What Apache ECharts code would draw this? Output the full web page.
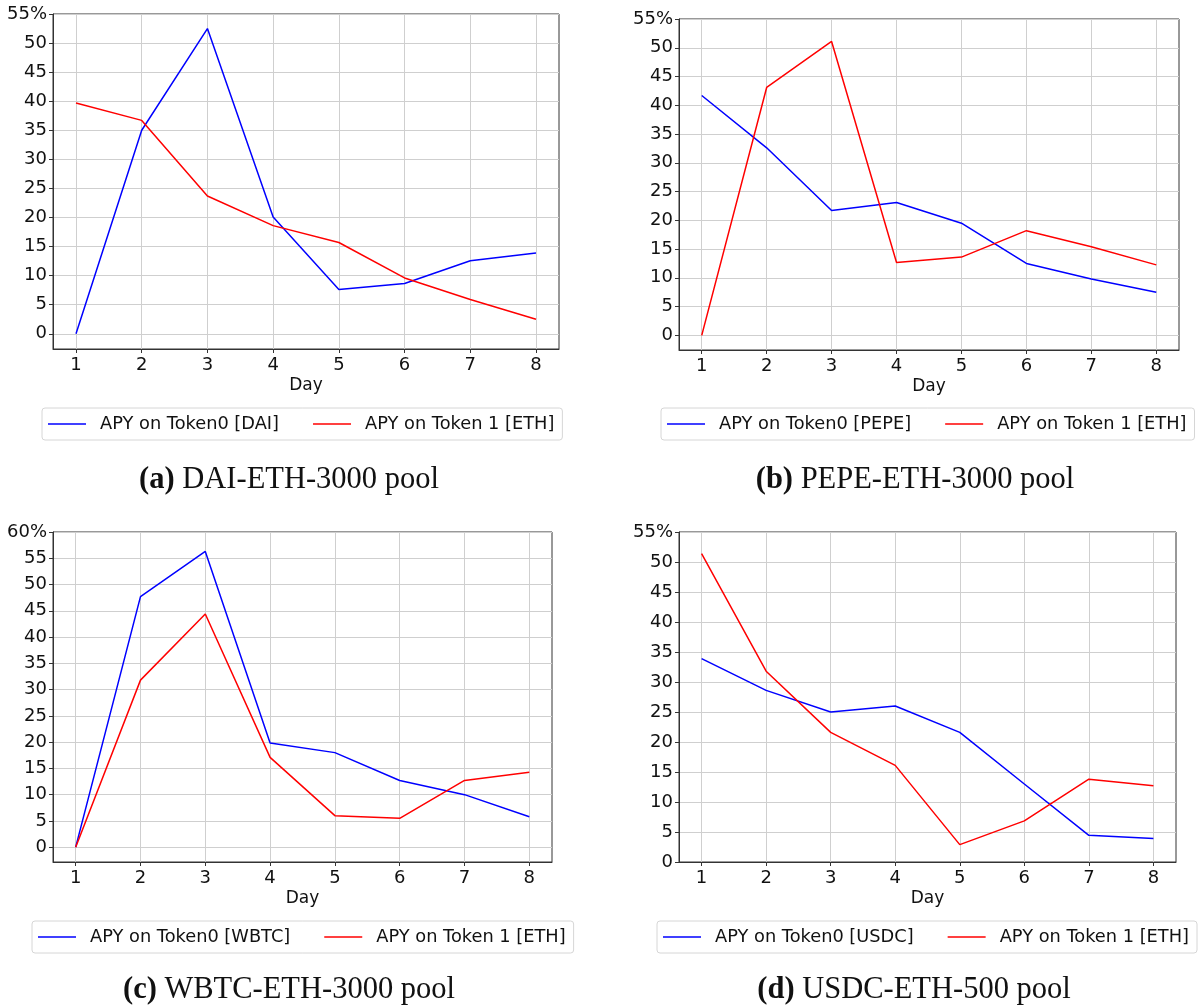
<!DOCTYPE html>
<html>
<head>
<meta charset="utf-8">
<script src="https://cdn.jsdelivr.net/npm/echarts@6/dist/echarts.min.js"></script>
<style>
html,body{margin:0;padding:0;background:#fff;}
#chart{width:1202px;height:1007px;}
</style>
</head>
<body>
<div id="chart"></div>
<script>
const days = [1, 2, 3, 4, 5, 6, 7, 8];

const daiToken0 = [0, 35.0, 52.5, 20.1, 7.6, 8.65, 12.55, 13.9];
const daiEth = [39.7, 36.7, 23.7, 18.6, 15.7, 9.6, 5.9, 2.5];

const pepeToken0 = [41.7, 32.6, 21.7, 23.1, 19.5, 12.5, 9.8, 7.5];
const pepeEth = [0, 43.1, 51.1, 12.65, 13.6, 18.2, 15.4, 12.25];

const wbtcToken0 = [0, 47.7, 56.3, 19.85, 18.0, 12.7, 10.0, 5.8];
const wbtcEth = [0, 31.8, 44.4, 17.1, 6.0, 5.5, 12.7, 14.25];

const usdcToken0 = [33.9, 28.6, 25.0, 26.0, 21.6, 13.0, 4.45, 3.9];
const usdcEth = [51.4, 31.8, 21.6, 16.1, 2.9, 6.85, 13.8, 12.7];

const yTicksA = [0, 5, 10, 15, 20, 25, 30, 35, 40, 45, 50, 55];
const yTicksC = [0, 5, 10, 15, 20, 25, 30, 35, 40, 45, 50, 55, 60];

const panels = [
  { token0: daiToken0, eth: daiEth, name0: 'APY on Token0 [DAI]', name1: 'APY on Token 1 [ETH]',
    caption: ['(a)', 'DAI-ETH-3000 pool'], yMin: -2.62, yMax: 55, yTicks: yTicksA,
    grid: { left: 53, top: 14, width: 506, height: 335 }, legend: { left: 42, top: 408 }, capX: 289, capY: 480 },
  { token0: pepeToken0, eth: pepeEth, name0: 'APY on Token0 [PEPE]', name1: 'APY on Token 1 [ETH]',
    caption: ['(b)', 'PEPE-ETH-3000 pool'], yMin: -2.55, yMax: 55, yTicks: yTicksA,
    grid: { left: 679, top: 19, width: 500, height: 331 }, legend: { left: 661, top: 408 }, capX: 915, capY: 480 },
  { token0: wbtcToken0, eth: wbtcEth, name0: 'APY on Token0 [WBTC]', name1: 'APY on Token 1 [ETH]',
    caption: ['(c)', 'WBTC-ETH-3000 pool'], yMin: -2.82, yMax: 60, yTicks: yTicksC,
    grid: { left: 53, top: 532, width: 499, height: 330 }, legend: { left: 32, top: 921 }, capX: 289, capY: 990 },
  { token0: usdcToken0, eth: usdcEth, name0: 'APY on Token0 [USDC]', name1: 'APY on Token 1 [ETH]',
    caption: ['(d)', 'USDC-ETH-500 pool'], yMin: 0, yMax: 55, yTicks: yTicksA,
    grid: { left: 679, top: 532, width: 497, height: 330 }, legend: { left: 657, top: 921 }, capX: 914, capY: 990 }
];

const FONT = 'DejaVu Sans';
const grids = [], xAxes = [], yAxes = [], series = [], legends = [], graphics = [];

panels.forEach((p, i) => {
  grids.push(Object.assign({ show: true, borderColor: '#333', borderWidth: 1, backgroundColor: '#fff', containLabel: false }, p.grid));
  xAxes.push({
    type: 'value', gridIndex: i, min: 0.65, max: 8.35,
    name: 'Day', nameLocation: 'middle', nameGap: 28,
    nameTextStyle: { fontFamily: FONT, fontSize: 17, color: '#111' },
    axisLine: { show: true, onZero: false, lineStyle: { color: '#333', width: 1 } },
    axisTick: { show: true, length: 4, customValues: days, lineStyle: { color: '#333' } },
    axisLabel: { customValues: days, margin: 7, fontFamily: FONT, fontSize: 18, color: '#111' },
    splitLine: { show: true, lineStyle: { color: '#cfcfcf', width: 1 } }
  });
  const ymax = p.yMax;
  yAxes.push({
    type: 'value', gridIndex: i, min: p.yMin, max: p.yMax,
    axisLine: { show: true, onZero: false, lineStyle: { color: '#333', width: 1 } },
    axisTick: { show: true, length: 4, customValues: p.yTicks, lineStyle: { color: '#333' } },
    axisLabel: { customValues: p.yTicks, margin: 6, fontFamily: FONT, fontSize: 18, color: '#111',
      formatter: v => (v === ymax ? v + '%' : String(v)) },
    splitLine: { show: true, lineStyle: { color: '#cfcfcf', width: 1 } }
  });
  series.push({
    type: 'line', name: p.name0, xAxisIndex: i, yAxisIndex: i,
    data: days.map((d, k) => [d, p.token0[k]]),
    showSymbol: false, symbol: 'none', lineStyle: { color: '#0000ff', width: 1.5 }, itemStyle: { color: '#0000ff' },
    animation: false
  });
  series.push({
    type: 'line', name: p.name1, xAxisIndex: i, yAxisIndex: i,
    data: days.map((d, k) => [d, p.eth[k]]),
    showSymbol: false, symbol: 'none', lineStyle: { color: '#ff0000', width: 1.5 }, itemStyle: { color: '#ff0000' },
    animation: false
  });
  legends.push({
    left: p.legend.left, top: p.legend.top, width: 700, orient: 'horizontal',
    data: [p.name0, p.name1],
    icon: 'rect', itemWidth: 38, itemHeight: 1.5, itemGap: 34,
    padding: [7, 8, 7, 6],
    borderColor: '#d6d6d6', borderWidth: 1, borderRadius: 3, backgroundColor: '#fff',
    textStyle: { fontFamily: FONT, fontSize: 17.8, color: '#111', padding: [0, 0, 0, 9] },
    selectedMode: false
  });
  graphics.push({
    type: 'text', x: p.capX, y: p.capY,
    style: {
      text: '{b|' + p.caption[0] + '}{r| ' + p.caption[1] + '}',
      rich: {
        b: { fontFamily: 'Liberation Serif', fontWeight: 'bold', fontSize: 30.5, fill: '#111' },
        r: { fontFamily: 'Liberation Serif', fontSize: 30.5, fill: '#111' }
      },
      align: 'center', verticalAlign: 'middle'
    }
  });
});

const chart = echarts.init(document.getElementById('chart'), null, { renderer: 'canvas' });
chart.setOption({
  backgroundColor: '#fff',
  animation: false,
  grid: grids, xAxis: xAxes, yAxis: yAxes, series: series, legend: legends,
  graphic: graphics
});
</script>
</body>
</html>
